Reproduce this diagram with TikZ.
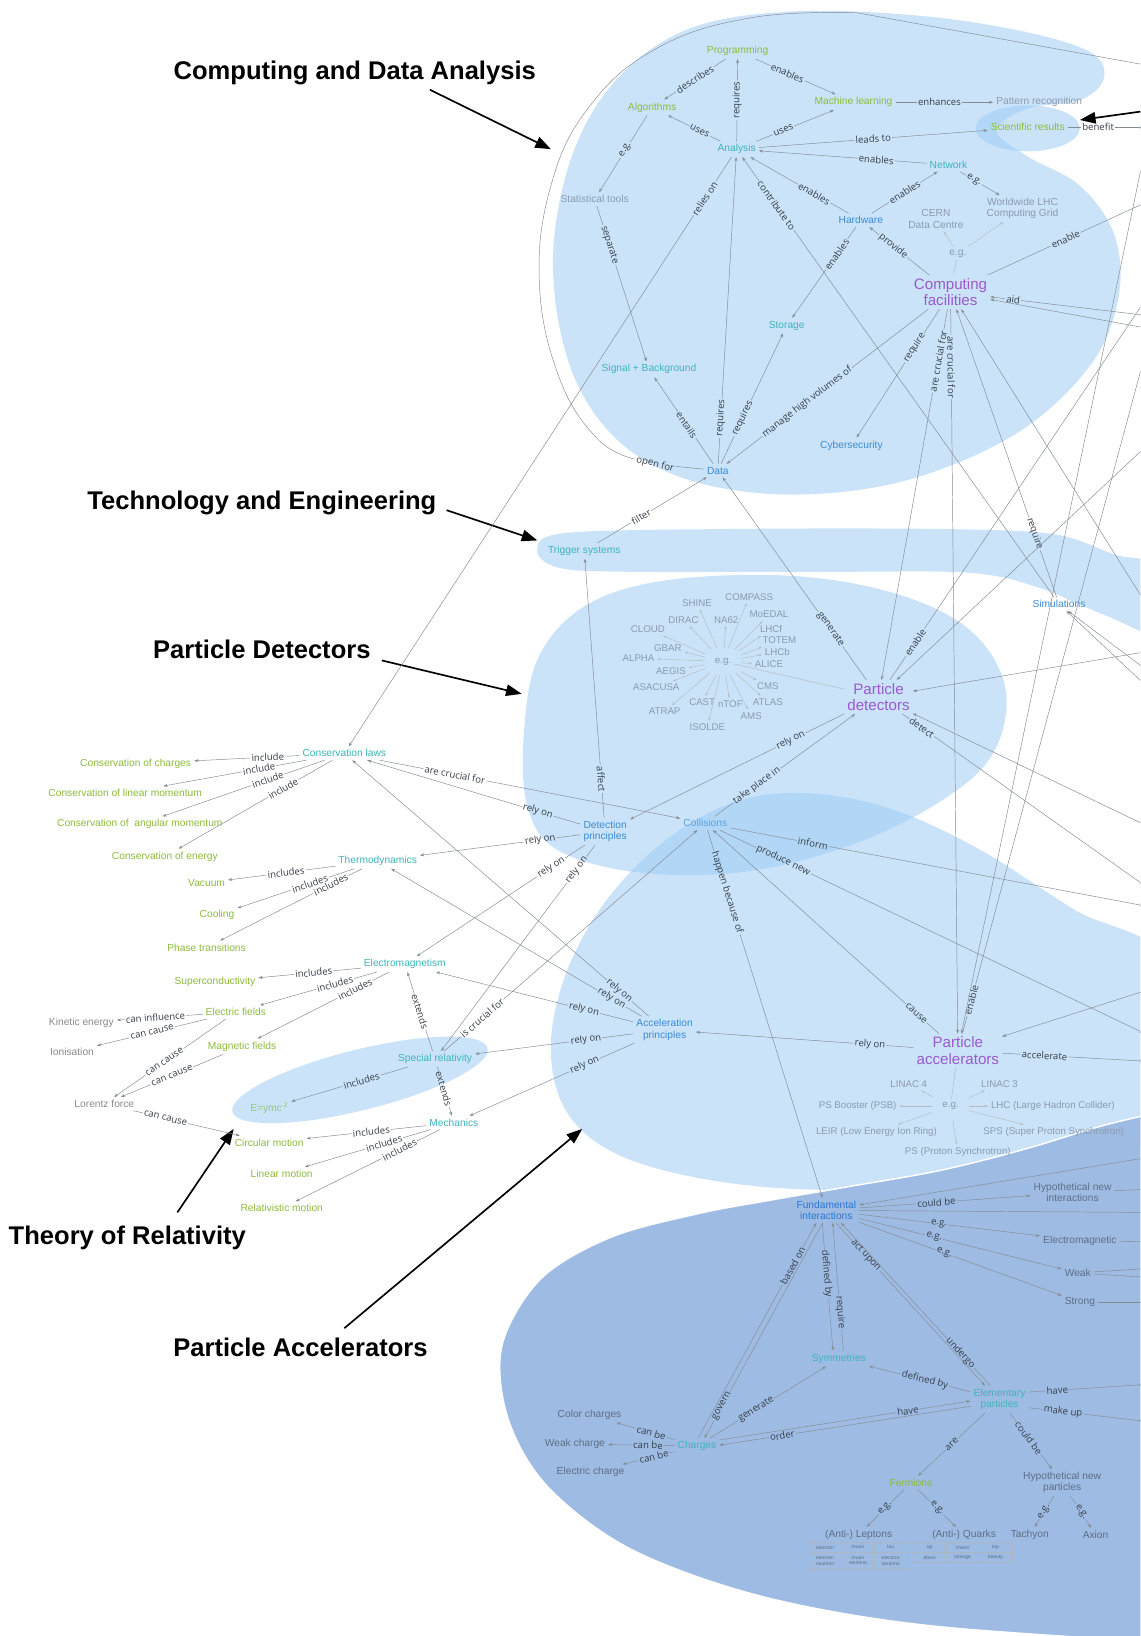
\documentclass[tikz,border=0pt]{standalone}
\usepackage{fontspec}
\setmainfont{Liberation Sans}
\newfontfamily\labfont{Open Sans}
\usetikzlibrary{arrows.meta}

\definecolor{cGreen}{HTML}{8CBB3C}
\definecolor{cLime}{HTML}{93C97A}
\definecolor{cTeal}{HTML}{3FB3BA}
\definecolor{cBlue}{HTML}{3A8BD2}
\definecolor{cBlueL}{HTML}{5BA3DC}
\definecolor{cBlueD}{HTML}{2B76D0}
\definecolor{cPurple}{HTML}{9A5ACE}
\definecolor{cGray}{HTML}{8C9AAD}
\definecolor{cGrayK}{HTML}{8A8A8A}
\definecolor{cGrayD}{HTML}{5C6D86}
\definecolor{cLab}{HTML}{363E48}
\definecolor{cLine}{HTML}{858B93}
\definecolor{cBlob}{RGB}{160,205,245}
\definecolor{cDeep}{RGB}{158,188,227}

\newcounter{lkc}
% labelled link: [scope options]{label position}{source}{label}{target}
\newcommand\lk[5][]{%
  \stepcounter{lkc}%
  \edef\lkname{lk\arabic{lkc}}%
  \begin{scope}[#1]
    \path (#3) -- node[lab,sloped,pos=#2] (\lkname) {#4} (#5);
    \draw[ln] (#3) -- (\lkname);
    \draw[ln,arr] (\lkname) -- (#5);
  \end{scope}%
}

\tikzset{
  nd/.style={font=\fontsize{9.8}{10.8}\selectfont, inner sep=1pt, outer sep=2pt, align=center},
  ngreen/.style={nd, text=cGreen},
  nlime/.style={nd, text=cLime},
  nteal/.style={nd, text=cTeal},
  nblue/.style={nd, text=cBlue},
  nbluel/.style={nd, text=cBlueL},
  nblued/.style={nd, text=cBlueD},
  ngray/.style={nd, text=cGray},
  ngrayk/.style={nd, text=cGrayK},
  ngrayd/.style={nd, text=cGrayD},
  nbig/.style={nd, text=cPurple, font=\fontsize{14.5}{16}\selectfont},
  exper/.style={nd, text=cGray, font=\fontsize{9.3}{10}\selectfont},
  lab/.style={font=\labfont\fontsize{9.2}{9.5}\selectfont, text=cLab, inner sep=0.6pt, outer sep=0.6pt},
  ln/.style={draw=cLine, line width=0.45pt},
  arr/.style={-{Stealth[length=4pt,width=2.8pt]}},
  ray/.style={draw=cLine!60, line width=0.4pt, -{Stealth[length=3pt,width=2.2pt]}, shorten <=7pt},
  ttl/.style={font=\bfseries\fontsize{24.5}{27}\selectfont, text=black},
  tarrow/.style={line width=1.6pt, -{Triangle[length=15pt,width=11pt]}},
  blob/.style={fill=cBlob, fill opacity=0.55},
  cell/.style={draw=cGrayD!50, line width=0.3pt, text=cGrayD, font=\fontsize{4.8}{5.2}\selectfont, inner sep=0.5pt, align=center, minimum width=31.5pt, minimum height=9.6pt},
}

\begin{document}
\begin{tikzpicture}[x=1pt,y=-1pt]
\useasboundingbox (0,0) rectangle (1093,1568);
\fill[white] (0,0) rectangle (1093,1568);
\clip (0,0) rectangle (1093,1568);

% ---------- shaded regions ----------
\fill[blob] plot[smooth cycle, tension=0.6] coordinates {
  (530,250) (548,150) (592,75) (662,27) (760,11) (880,15) (980,30)
  (1045,50) (1058,75) (1035,96) (985,104) (955,125) (985,150)
  (1035,178) (1068,225) (1072,285) (1045,350) (975,415) (870,460)
  (760,474) (660,460) (590,420) (546,350)};
\fill[blob] (985,123) ellipse [x radius=50, y radius=22];
\fill[blob] plot[smooth cycle, tension=0.55] coordinates {
  (515,528) (540,511) (700,507) (900,507) (1010,512) (1070,532)
  (1120,545) (1120,610) (1060,590) (995,563) (930,549) (800,548)
  (600,548) (535,544)};
\fill[blob] plot[smooth cycle, tension=0.6] coordinates {
  (502,705) (516,630) (562,580) (640,556) (760,552) (862,570)
  (932,606) (964,662) (950,725) (895,772) (810,812) (710,836)
  (610,836) (535,815) (506,775)};
\fill[blob] plot[smooth cycle, tension=0.6] coordinates {
  (1120,925) (1030,872) (935,812) (850,774) (770,760) (700,770)
  (632,810) (576,870) (540,940) (528,1010) (546,1070) (600,1110)
  (700,1134) (820,1140) (950,1126) (1050,1100) (1120,1080)};
\fill[blob, rotate around={14:(345,1035)}] (345,1035) ellipse [x radius=126, y radius=29];
\filldraw[fill=cDeep, draw=white, line width=1.4pt] plot[smooth, tension=0.55] coordinates {
  (1130,1062) (1060,1078) (980,1102) (900,1122) (815,1137) (740,1150)
  (670,1163) (585,1186) (518,1226) (481,1290) (487,1360) (525,1425)
  (605,1485) (730,1530) (890,1558) (1130,1575)} -- cycle;

% ---------- section titles ----------
\node[ttl] (tComp) at (340,70) {Computing and Data Analysis};
\node[ttl] (tTech) at (251,482) {Technology and Engineering};
\node[ttl] (tDet) at (251,622) {Particle Detectors};
\node[ttl] (tRel) at (122,1186) {Theory of Relativity};
\node[ttl] (tAcc) at (288,1291) {Particle Accelerators};
\coordinate (aComp0) at (412,86);   \coordinate (aComp1) at (528,143);
\coordinate (aTech0) at (428,489);  \coordinate (aTech1) at (515,518);
\coordinate (aDet0) at (366,633);   \coordinate (aDet1) at (500,665);
\coordinate (aRel0) at (170,1162);  \coordinate (aRel1) at (224,1082);
\coordinate (aAcc0) at (330,1273);  \coordinate (aAcc1) at (558,1082);
\coordinate (aSci0) at (1100,106);  \coordinate (aSci1) at (1035,115);
\draw[tarrow] (aComp0) -- (aComp1);
\draw[tarrow] (aTech0) -- (aTech1);
\draw[tarrow] (aDet0) -- (aDet1);
\draw[tarrow] (aRel0) -- (aRel1);
\draw[tarrow] (aAcc0) -- (aAcc1);
\draw[tarrow] (aSci0) -- (aSci1);

% ---------- computing and data analysis ----------
\node[ngreen] (prog) at (707,49) {Programming};
\node[ngreen] (algo) at (625,103) {Algorithms};
\node[ngreen] (ml) at (818,98) {Machine learning};
\node[ngray] (patt) at (996,98) {Pattern recognition};
\node[ngreen] (sci) at (985,122) {Scientific results};
\node[nteal] (ana) at (706,143) {Analysis};
\node[ngray] (stat) at (570,191) {Statistical tools};
\node[nteal] (net) at (909,158) {Network};
\node[ngray] (wlcg) at (980,200) {Worldwide LHC\\Computing Grid};
\node[ngray] (cern) at (897,210) {CERN\\Data Centre};
\node[nblue] (hw) at (825,211) {Hardware};
\node[ngray] (egc) at (918,243) {e.g.};
\node[nbig] (cf) at (911,280) {Computing\\facilities};
\node[nteal] (stor) at (754,312) {Storage};
\node[nteal] (sigbg) at (622,354) {Signal + Background};
\node[nblue] (cyber) at (816,427) {Cybersecurity};
\node[nblue] (data) at (688,451) {Data};

% ---------- technology ----------
\node[nteal] (trig) at (560,528) {Trigger systems};
\node[nblue] (sim) at (1015,579) {Simulations};

% ---------- detectors ----------
\node[nbig] (pdet) at (842,668) {Particle\\detectors};
\node[exper] (egd) at (693,634) {e.g.};
\foreach \n/\x/\y in {COMPASS/718/572, SHINE/668/578, DIRAC/655/594, NA62/696/594,
  MoEDAL/737/589, CLOUD/621/603, LHCf/739/603, GBAR/640/621, TOTEM/747/614,
  ALPHA/612/631, LHCb/745/625, AEGIS/643/643, ALICE/737/637, ASACUSA/629/659,
  CMS/736/658, CAST/673/673, nTOF/700/675, ATLAS/736/673, ATRAP/637/682,
  AMS/720/686, ISOLDE/678/697}
  {\node[exper] (x\n) at (\x,\y) {\n};
   \draw[ray] (egd) -- (x\n);}
\node[nblue] (detp) at (580,797) {Detection\\principles};
\node[nbluel] (coll) at (676,789) {Collisions};

% ---------- accelerators ----------
\node[nblue] (accp) at (637,987) {Acceleration\\principles};
\node[nbig] (pacc) at (918,1007) {Particle\\accelerators};
\node[exper] (ega) at (911,1060) {e.g.};
\node[exper] (linacA) at (871,1039) {LINAC 4};
\node[exper] (linacB) at (958,1039) {LINAC 3};
\node[exper] (psb) at (822,1060) {PS Booster (PSB)};
\node[exper] (lhc) at (1009,1060) {LHC (Large Hadron Collider)};
\node[exper] (leir) at (840,1085) {LEIR (Low Energy Ion Ring)};
\node[exper] (sps) at (1010,1085) {SPS (Super Proton Synchrotron)};
\node[exper] (psy) at (918,1104) {PS (Proton Synchrotron)};
\foreach \n in {linacA,linacB,psb,lhc,leir,sps,psy} {\draw[ray] (ega) -- (\n);}
\draw[ln, draw=cLine!60] (pacc) -- (ega);

% ---------- physics foundations ----------
\node[nteal] (cons) at (330,722) {Conservation laws};
\node[ngreen] (cch) at (130,732) {Conservation of charges};
\node[ngreen] (clin) at (120,760) {Conservation of linear momentum};
\node[ngreen] (cang) at (134,790) {Conservation of \ angular momentum};
\node[ngreen] (cen) at (158,821) {Conservation of energy};
\node[nteal] (thermo) at (362,825) {Thermodynamics};
\node[ngreen] (vac) at (198,846) {Vacuum};
\node[ngreen] (cool) at (208,877) {Cooling};
\node[ngreen] (phase) at (198,908) {Phase transitions};
\node[nteal] (em) at (388,924) {Electromagnetism};
\node[ngreen] (supc) at (206,941) {Superconductivity};
\node[ngreen] (ef) at (226,970) {Electric fields};
\node[ngreen] (mf) at (232,1003) {Magnetic fields};
\node[ngrayk] (kin) at (78,980) {Kinetic energy};
\node[ngrayk] (ion) at (69,1008) {Ionisation};
\node[ngrayk] (lor) at (100,1058) {Lorentz force};
\node[nteal] (sr) at (417,1015) {Special relativity};
\node[nlime] (emc) at (258,1062) {E=ymc\,\textsuperscript{2}};
\node[nteal] (mech) at (435,1076) {Mechanics};
\node[ngreen] (circ) at (258,1095) {Circular motion};
\node[ngreen] (lin) at (270,1125) {Linear motion};
\node[ngreen] (rel) at (270,1158) {Relativistic motion};

% ---------- fundamental interactions ----------
\node[nblued] (fund) at (792,1160) {Fundamental\\interactions};
\node[ngrayd] (hypi) at (1028,1143) {Hypothetical new\\interactions};
\node[ngrayd] (emag) at (1035,1189) {Electromagnetic};
\node[ngrayd] (weak) at (1033,1220) {Weak};
\node[ngrayd] (strong) at (1035,1248) {Strong};
\node[nteal] (sym) at (804,1302) {Symmetries};
\node[nteal] (elem) at (958,1341) {Elementary\\particles};
\node[nteal] (chg) at (668,1386) {Charges};
\node[ngrayd] (colc) at (565,1356) {Color charges};
\node[ngrayd] (wkc) at (551,1384) {Weak charge};
\node[ngrayd] (elc) at (566,1411) {Electric charge};
\node[ngreen] (ferm) at (873,1421) {Fermions};
\node[ngrayd] (hypp) at (1018,1421) {Hypothetical new\\particles};
\node[ngrayd] (lep) at (823,1471) {(Anti-) Leptons};
\node[ngrayd] (qrk) at (924,1471) {(Anti-) Quarks};
\node[ngrayd] (tach) at (987,1471) {Tachyon};
\node[ngrayd] (axion) at (1050,1471) {Axion};
% particle tables
\node[cell] (c11) at (790.8,1483) {electron};
\node[cell] (c12) at (822.2,1483) {muon};
\node[cell] (c13) at (853.6,1483) {tau};
\node[cell, minimum height=16pt] (c21) at (790.8,1496) {electron\\neutrino};
\node[cell, minimum height=16pt] (c22) at (822.2,1496) {muon\\neutrino};
\node[cell, minimum height=16pt] (c23) at (853.6,1496) {electron\\neutrino};
\node[cell] (q11) at (891,1483) {up};
\node[cell] (q12) at (922.5,1483) {charm};
\node[cell] (q13) at (954,1483) {top};
\node[cell] (q21) at (891,1492.6) {down};
\node[cell] (q22) at (922.5,1492.6) {strange};
\node[cell] (q23) at (954,1492.6) {beauty};

% ---------- loose ends at the right margin ----------
\coordinate (rOpen) at (1096,62);
\coordinate (rBen) at (1096,122);
\coordinate (rEnCF) at (1096,195);
\coordinate (rAidA) at (1096,302);
\coordinate (rAidB) at (1096,314);
\coordinate (rCF) at (1096,575);
\coordinate (rEnPD) at (1096,290);
\coordinate (rPa) at (1096,430);
\coordinate (rPb) at (1096,625);
\coordinate (rPc) at (1096,790);
\coordinate (rDet) at (1096,848);
\coordinate (rInf) at (1096,868);
\coordinate (rProd) at (1096,990);
\coordinate (rAa) at (1096,150);
\coordinate (rEnPA) at (1096,345);
\coordinate (rAb) at (1096,950);
\coordinate (rAcc) at (1096,1017);
\coordinate (rSa) at (1096,640);
\coordinate (rSb) at (1096,655);
\coordinate (rFa) at (1096,1110);
\coordinate (rFb) at (1096,1162);
\coordinate (rHyp) at (1096,1140);
\coordinate (rEm) at (1096,1190);
\coordinate (rWa) at (1096,1216);
\coordinate (rWb) at (1096,1224);
\coordinate (rSt) at (1096,1248);
\coordinate (rHave) at (1096,1332);
\coordinate (rMake) at (1096,1357);

% ---------- links: computing ----------
\lk{0.5}{prog}{describes}{algo}
\lk{0.5}{ana}{requires}{prog}
\lk{0.4}{prog}{enables}{ml}
\lk{0.35}{ana}{uses}{ml}
\lk{0.4}{ana}{uses}{algo}
\lk{0.45}{ml}{enhances}{patt}
\lk{0.5}{ana}{leads to}{sci}
\lk{0.3}{net}{enables}{ana}
\lk{0.35}{hw}{enables}{ana}
\lk{0.5}{hw}{enables}{net}
\lk{0.35}{net}{e.g.}{wlcg}
\draw[ln, draw=cLine!60] (cf) -- (egc);
\draw[ray, shorten <=0pt] (egc) -- (cern);
\draw[ray, shorten <=0pt] (egc) -- (wlcg);
\lk{0.6}{cf}{provide}{hw}
\lk{0.3}{hw}{enables}{stor}
\lk{0.45}{algo}{e.g.}{stat}
\lk{0.25}{stat}{separate}{sigbg}
\lk{0.45}{data}{entails}{sigbg}
\lk{0.15}{data}{requires}{ana}
\lk{0.35}{data}{requires}{stor}
\lk{0.6}{cf}{manage high volumes of}{data}
\lk{0.3}{cf}{require}{cyber}
\lk{0.07}{ana}{relies on}{cons}
\lk{0.89}{sim}{contribute to}{ana}
\lk{0.14}{cf}{are crucial for}{pdet}
\lk{0.08}{cf}{are crucial for}{pacc}
\lk{0.22}{sim}{require}{cf}
\lk{0.5}{cf}{enable}{rEnCF}
\lk{0.85}{rAidA}{aid}{cf}
\draw[ln,arr] (rAidB) -- (cf);
\draw[ln,arr] (rCF) -- (cf);
\lk{0.4}{sci}{benefit}{rBen}
% open for
\node[lab, rotate=-14] (openfor) at (628,445) {open for};
\draw[ln] (data) -- (openfor);
\draw[ln] plot[smooth, tension=0.7] coordinates {(608,440) (572,420) (536,362)
  (517,272) (528,178) (565,102) (630,46) (720,17) (820,12)} -- (rOpen);

% ---------- links: technology & detectors ----------
\lk{0.4}{trig}{filter}{data}
\lk{0.25}{pdet}{generate}{data}
\lk{0.15}{detp}{affect}{trig}
\lk{0.25}{pdet}{rely on}{detp}
\lk{0.3}{coll}{take place in}{pdet}
\draw[ln, draw=cLine!60] (pdet) -- (egd);
\lk{0.25}{cons}{are crucial for}{coll}
\lk{0.2}{detp}{rely on}{cons}
\lk{0.25}{detp}{rely on}{thermo}
\lk{0.2}{detp}{rely on}{em}
\lk{0.12}{detp}{rely on}{sr}
\lk{0.2}{coll}{inform}{rInf}
\lk{0.15}{coll}{produce new}{rProd}
\lk{0.17}{coll}{happen because of}{fund}
\lk{0.1}{pacc}{cause}{coll}
\lk{0.15}{sr}{is crucial for}{coll}
\lk{0.08}{pdet}{detect}{rDet}
\lk{0.1}{pdet}{enable}{rEnPD}
\draw[ln,arr] (rPa) -- (pdet);
\draw[ln,arr] (rPb) -- (pdet);
\draw[ln,arr] (rPc) -- (pdet);
\draw[ln,arr] (rSa) -- (sim);
\draw[ln,arr] (rSb) -- (sim);

% ---------- links: accelerators ----------
\lk{0.2}{pacc}{rely on}{accp}
\lk{0.1}{accp}{rely on}{cons}
\lk{0.12}{accp}{rely on}{thermo}
\lk{0.25}{accp}{rely on}{em}
\lk{0.3}{accp}{rely on}{sr}
\lk{0.3}{accp}{rely on}{mech}
\lk{0.3}{pacc}{accelerate}{rAcc}
\lk{0.05}{pacc}{enable}{rEnPA}
\draw[ln,arr] (rAa) -- (pacc);
\draw[ln,arr] (rAb) -- (pacc);

% ---------- links: physics foundations ----------
\lk{0.3}{cons}{include}{cch}
\lk{0.33}{cons}{include}{clin}
\lk{0.35}{cons}{include}{cang}
\lk{0.32}{cons}{include}{cen}
\lk{0.46}{thermo}{includes}{vac}
\lk{0.38}{thermo}{includes}{cool}
\lk{0.22}{thermo}{includes}{phase}
\lk{0.46}{em}{includes}{supc}
\lk{0.36}{em}{includes}{ef}
\lk{0.26}{em}{includes}{mf}
\lk{0.55}{ef}{can influence}{kin}
\lk{0.5}{ef}{can cause}{ion}
\lk{0.55}{ef}{can cause}{lor}
\lk{0.5}{mf}{can cause}{lor}
\lk{0.3}{lor}{can cause}{circ}
\lk{0.5}{sr}{extends}{em}
\lk{0.45}{sr}{extends}{mech}
\lk{0.4}{sr}{includes}{emc}
\lk{0.46}{mech}{includes}{circ}
\lk{0.37}{mech}{includes}{lin}
\lk{0.28}{mech}{includes}{rel}

% ---------- links: fundamental interactions ----------
\lk{0.45}{fund}{could be}{hypi}
\lk{0.44}{fund}{e.g.}{emag}
\lk{0.37}{fund}{e.g.}{weak}
\lk{0.42}{fund}{e.g.}{strong}
\draw[ln] (fund) -- (rFb);
\draw[ln,arr] (rFa) -- (fund);
\draw[ln] (hypi) -- (rHyp);
\draw[ln] (emag) -- (rEm);
\draw[ln] (weak) -- (rWa);
\draw[ln] (weak) -- (rWb);
\draw[ln] (strong) -- (rSt);
\lk[transform canvas={xshift=-5pt}]{0.4}{fund}{defined by}{sym}
\lk[transform canvas={xshift=5pt}]{0.3}{sym}{require}{fund}
\lk[transform canvas={xshift=-2pt}]{0.2}{fund}{act upon}{elem}
\lk[transform canvas={xshift=3pt}]{0.2}{elem}{undergo}{fund}
\lk[transform canvas={xshift=-3pt}]{0.8}{chg}{based on}{fund}
\lk[transform canvas={xshift=3pt}]{0.85}{fund}{govern}{chg}
\lk{0.4}{chg}{generate}{sym}
\lk{0.45}{elem}{defined by}{sym}
\lk[transform canvas={yshift=2.5pt}]{0.75}{chg}{have}{elem}
\lk[transform canvas={yshift=-2.5pt}]{0.75}{elem}{order}{chg}
\lk[transform canvas={yshift=5pt}]{0.25}{elem}{have}{rHave}
\lk[transform canvas={yshift=-5pt}]{0.3}{elem}{make up}{rMake}
\lk{0.5}{elem}{are}{ferm}
\lk{0.45}{elem}{could be}{hypp}
\lk{0.5}{ferm}{e.g.}{lep}
\lk{0.5}{ferm}{e.g.}{qrk}
\lk{0.5}{hypp}{e.g.}{tach}
\lk{0.5}{hypp}{e.g.}{axion}
\lk{0.4}{chg}{can be}{colc}
\lk{0.4}{chg}{can be}{wkc}
\lk{0.4}{chg}{can be}{elc}
\end{tikzpicture}
\end{document}
